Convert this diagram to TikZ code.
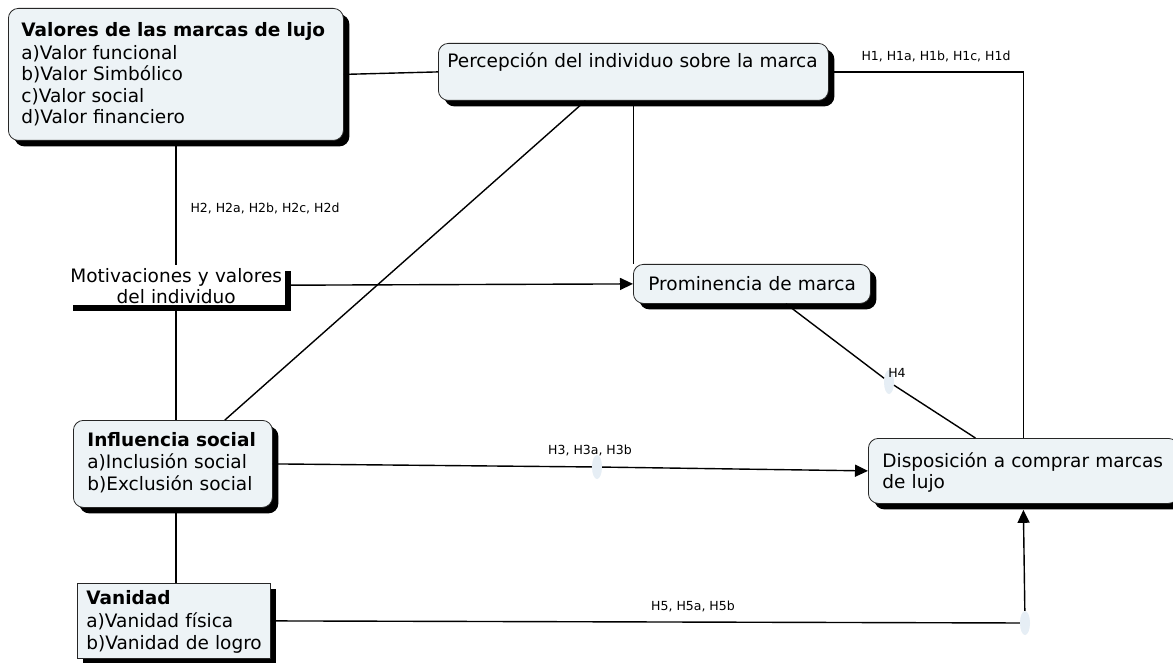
\documentclass[tikz,border=0pt]{standalone}
\usepackage{fontspec}
\setmainfont{DejaVu Sans}
\usetikzlibrary{shadows,arrows.meta,calc,shapes.geometric}
\definecolor{boxfill}{RGB}{237,243,246}
\definecolor{dotfill}{RGB}{230,238,245}
\newcommand\mainfs{\fontsize{18.5}{21.5}\selectfont}
\newcommand\labfs{\fontsize{12.5}{14}\selectfont}
\begin{document}
\begin{tikzpicture}[x=1pt,y=-1pt,
  shadowed/.style={drop shadow={shadow xshift=6pt,shadow yshift=-6pt,fill=black,opacity=1}},
  basebox/.style={draw=black!85,line width=0.8pt,fill=boxfill,shadowed,anchor=north west,
    inner ysep=0pt,align=left,font=\mainfs},
  roundbox/.style={basebox,rounded corners=10pt},
  squarebox/.style={basebox},
  plainbox/.style={fill=white,draw=none,shadowed,anchor=north west,inner xsep=0pt,
    inner ysep=0pt,align=center,font=\mainfs},
  dot/.style={ellipse,fill=dotfill,draw=none,minimum width=10pt,minimum height=24pt,inner sep=0pt},
  hyp/.style={font=\labfs,inner sep=0pt},
  conn/.style={line width=1.4pt,black},
  arr/.style={conn,-{Triangle[length=13pt,width=12pt]}}
]
\useasboundingbox[fill=white] (0,0) rectangle (1173,663);

% nodes
\node[roundbox,inner xsep=13pt,text width=309pt,text height=28pt,text depth=104pt] (val) at (8,8)
  {\mbox{\bfseries Valores de las marcas de lujo}\\[1.5pt]a)Valor funcional\\b)Valor Simbólico\\c)Valor social\\d)Valor financiero};
\node[roundbox,inner xsep=9pt,text width=372pt,text height=24pt,text depth=33pt] (per) at (438,43)
  {\mbox{Percepción del individuo sobre la marca}};
\node[plainbox,text width=218pt,text height=17pt,text depth=23pt] (mot) at (67,265)
  {Motivaciones y valores\\del individuo};
\node[roundbox,inner xsep=15pt,text width=207pt,text height=26pt,text depth=13pt] (pro) at (633,264)
  {\mbox{Prominencia de marca}};
\node[roundbox,inner xsep=14pt,text width=171pt,text height=26pt,text depth=61pt] (inf) at (73,420)
  {\mbox{\bfseries Influencia social}\\[1pt]\mbox{a)Inclusión social}\\\mbox{b)Exclusión social}};
\node[squarebox,inner xsep=9pt,text width=175pt,text height=21pt,text depth=54pt] (van) at (77,583)
  {\mbox{\bfseries Vanidad}\\[2pt]\mbox{a)Vanidad física}\\\mbox{b)Vanidad de logro}};
\node[roundbox,inner xsep=14pt,text width=282pt,text height=29pt,text depth=36pt] (disp) at (868,438)
  {\mbox{Disposición a comprar marcas}\\de lujo};

\node[dot] (h3dot) at (597,467) {};
\node[dot] (h4dot) at (889,382) {};
\node[dot] (h5dot) at (1025,623) {};

% labels
\node[hyp] (h1) at (936,56) {H1, H1a, H1b, H1c, H1d};
\node[hyp] (h2) at (265,208) {H2, H2a, H2b, H2c, H2d};
\node[hyp] (h3) at (590,450) {H3, H3a, H3b};
\node[hyp] (h4) at (897,373) {H4};
\node[hyp] (h5) at (693,606) {H5, H5a, H5b};

% connectors
\draw[conn] (val.east) -- (per.west);
\draw[conn] (per.east) -| (disp.north);
\draw[conn] (val.south) -- (val.south |- mot.north);
\draw[conn] (val.south |- mot.south) -- (val.south |- inf.north);
\draw[conn] (val.south |- inf.south) -- (val.south |- van.north);
\draw[arr] (mot.east) -- (pro.west);
\draw[conn] (per.south) -- (per.south |- pro.north);
\draw[conn] ([xshift=-48pt]per.south) -- ([xshift=52pt]inf.north);
\draw[conn] ([xshift=34pt]pro.south) -- (h4dot);
\draw[conn] (h4dot) -- ([xshift=-48pt]disp.north);
\draw[conn] (inf.east) -- (h3dot);
\draw[arr] (h3dot) -- (disp.west);
\draw[conn] (van.east) -- (h5dot);
\draw[arr] (h5dot) -- ([yshift=-6pt]disp.south);
\end{tikzpicture}
\end{document}
